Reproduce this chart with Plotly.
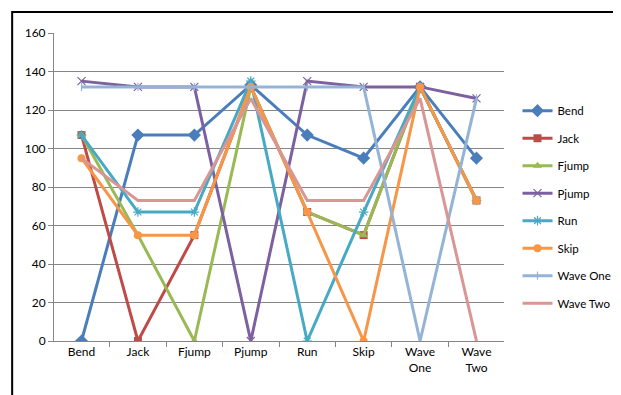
import plotly.graph_objects as go

categories = ["Bend", "Jack", "Fjump", "Pjump", "Run", "Skip", "Wave One", "Wave Two"]
tick_labels = ["Bend", "Jack", "Fjump", "Pjump", "Run", "Skip", "Wave<br>One", "Wave<br>Two"]

bend = [0, 107, 107, 133, 107, 95, 132, 95]
jack = [107, 0, 55, 132, 67, 55, 132, 73]
fjump = [107, 55, 0, 132, 67, 55, 132, 73]
pjump = [135, 132, 132, 0, 135, 132, 132, 126]
run = [107, 67, 67, 135, 0, 67, 132, 73]
skip = [95, 55, 55, 132, 67, 0, 132, 73]
wave_one = [132, 132, 132, 132, 132, 132, 0, 126]
wave_two = [95, 73, 73, 126, 73, 73, 126, 0]

series = [
    ("Bend", bend, "#4A7EBB", "diamond", 8, 2),
    ("Jack", jack, "#BE4B48", "square", 8, 0),
    ("Fjump", fjump, "#98B954", "triangle-up", 8, 0),
    ("Pjump", pjump, "#7D60A0", "x-thin-open", 8, 1.2),
    ("Run", run, "#46AAC5", "asterisk-open", 8, 1.2),
    ("Skip", skip, "#F79646", "circle", 8, 0),
    ("Wave One", wave_one, "#95B3D7", "line-ns-open", 6, 1.2),
    ("Wave Two", wave_two, "#D99694", "line-ew-open", 1, 0),
]

fig = go.Figure()
for i, (name, vals, col, sym, sz, mlw) in enumerate(series):
    fig.add_trace(go.Scatter(
        x=tick_labels, y=vals, name=name, mode="lines+markers",
        line=dict(color=col, width=3),
        marker=dict(symbol=sym, size=sz, color=col, line=dict(color=col, width=mlw)),
        legendgroup=f"g{i}",
    ))

fig.update_layout(
    width=621, height=395,
    margin=dict(l=46, r=125, t=25, b=62, autoexpand=False),
    paper_bgcolor="white", plot_bgcolor="white",
    font=dict(family="Lato, Liberation Sans, sans-serif", size=12, color="#000000"),
    showlegend=True,
    legend=dict(x=1.03, y=0.795, xanchor="left", yanchor="top",
                traceorder="grouped", tracegroupgap=8.5,
                font=dict(size=11.5), itemwidth=30, bgcolor="rgba(0,0,0,0)"),
    shapes=[dict(type="rect", xref="paper", yref="paper",
                 x0=-0.093, x1=1.253, y0=-0.3, y1=1.068,
                 line=dict(color="black", width=2), fillcolor="rgba(0,0,0,0)", layer="below")],
)
fig.update_xaxes(
    type="category", showgrid=False, showline=True, linecolor="#868686", linewidth=1,
    ticks="outside", tickson="boundaries", ticklen=5, tickcolor="#868686",
    tickfont=dict(size=12), zeroline=False,
)
fig.update_yaxes(
    range=[0, 160], dtick=20, showgrid=True, gridcolor="#868686", gridwidth=1,
    showline=True, linecolor="#868686", linewidth=1, ticks="outside", ticklen=5,
    tickcolor="#868686", tickfont=dict(size=12), zeroline=False,
)
fig.write_html("out.html")
